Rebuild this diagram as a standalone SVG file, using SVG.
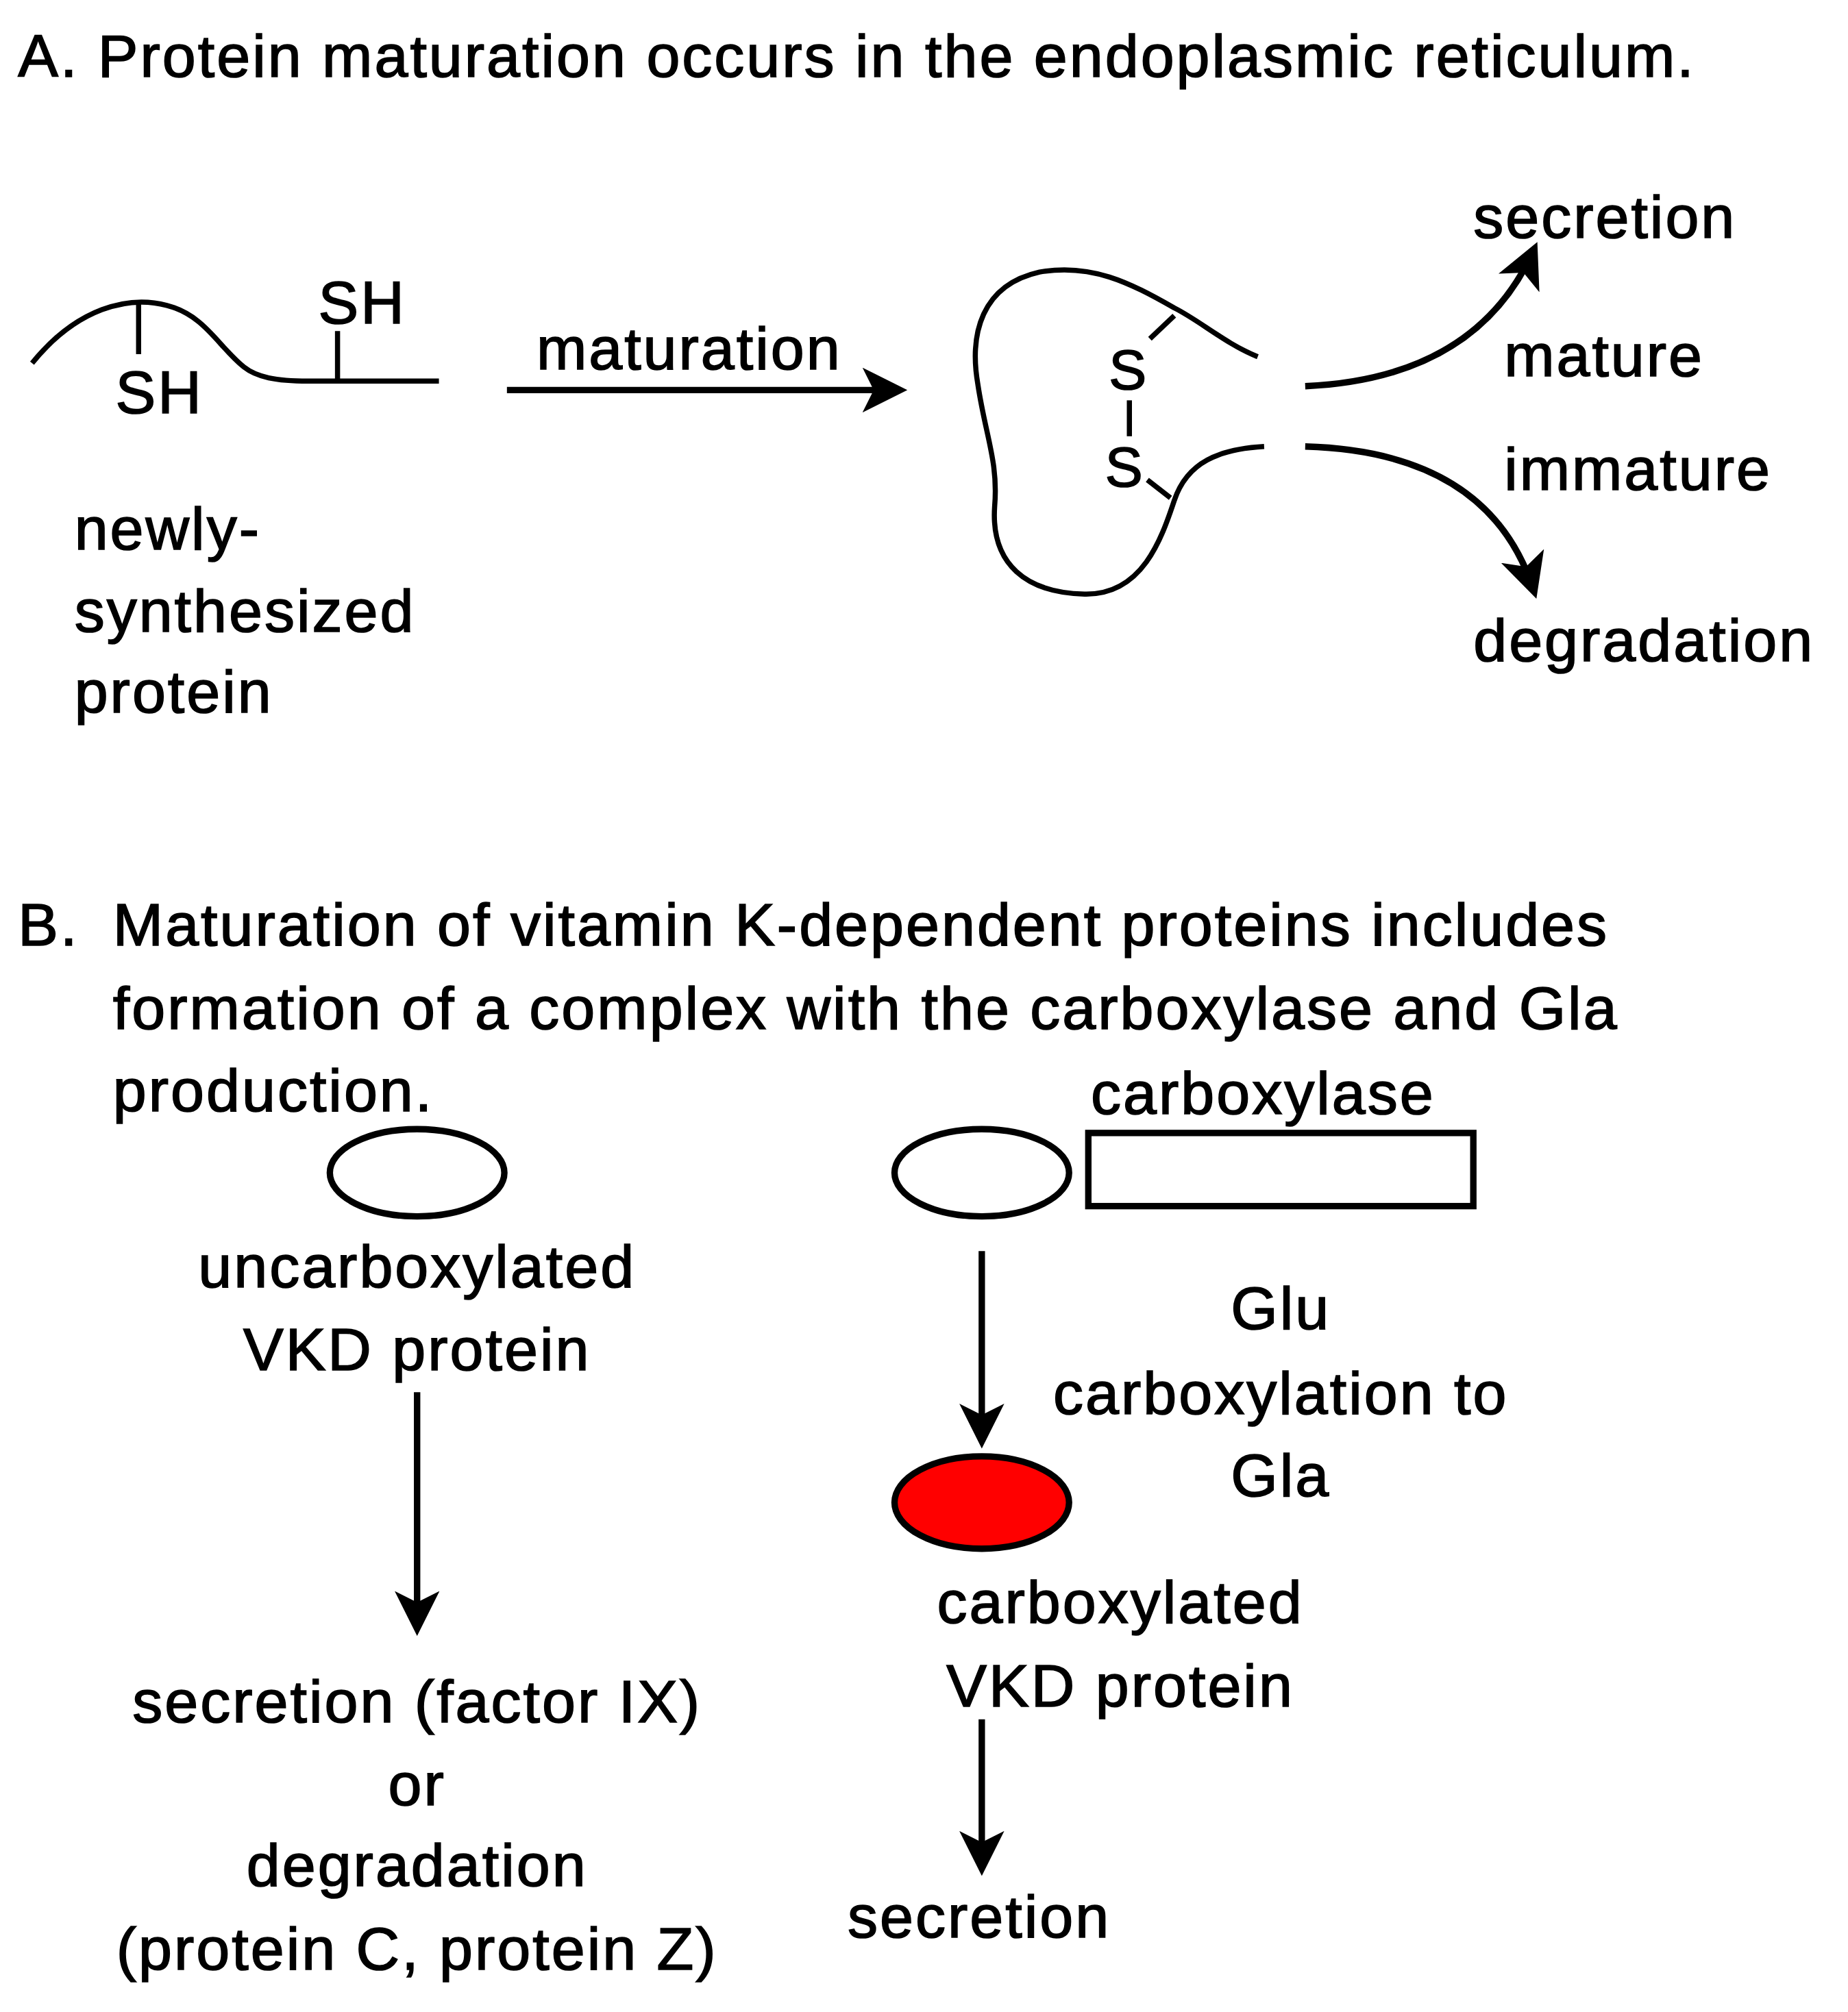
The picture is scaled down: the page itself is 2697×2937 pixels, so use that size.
<svg xmlns="http://www.w3.org/2000/svg" width="2697" height="2937" viewBox="0 0 2697 2937">
<defs>
<style>
text{font-family:"Liberation Sans","DejaVu Sans",sans-serif;font-size:47px;fill:#000;stroke:#000;stroke-width:0.9px;letter-spacing:1.6px}
.c{text-anchor:middle}
.ln{fill:none;stroke:#000;stroke-width:4}
.ar{fill:none;stroke:#000;stroke-width:5}
</style>
<marker id="ah2" viewBox="0 0 10 10" refX="8" refY="5" markerWidth="7" markerHeight="7" orient="auto">
<path d="M0,0 L10,5 L0,10 L2.5,5 z" fill="#000"/>
</marker>
</defs>
<rect width="2697" height="2937" fill="#fff"/>
<g transform="scale(1.873)">
<g id="titleA"><text x="14" y="60">A. Protein maturation occurs in the endoplasmic reticulum.</text></g>
<g id="newProtein">
<path class="ln" d="M25,283 C60,240 100,230 130,238 C160,246 170,270 190,286 C200,294 215,297 240,297 L342,297"/>
<line class="ln" x1="108" y1="236" x2="108" y2="276"/>
<line class="ln" x1="263" y1="258" x2="263" y2="297"/>
<text x="90" y="322">SH</text>
<text x="248" y="252">SH</text>
<text x="58" y="428">newly-</text>
<text x="58" y="492">synthesized</text>
<text x="58" y="555">protein</text>
</g>
<g id="matureProtein">
<path class="ln" d="M980,278 C955,268 935,250 915,240 C880,220 850,205 810,212 C765,222 755,260 762,300 C768,340 778,360 775,395 C772,440 800,462 845,463 C890,464 905,420 915,390 C925,360 950,350 985,348"/>
<text x="864" y="303" style="font-size:44px;letter-spacing:0">S</text>
<text x="861" y="379" style="font-size:44px;letter-spacing:0">S</text>
<line class="ln" x1="880" y1="312" x2="880" y2="340"/>
<line class="ln" x1="896" y1="264" x2="915" y2="246"/>
<line class="ln" x1="894" y1="374" x2="912" y2="388"/>
</g>
<g id="connectors">
<line class="ar" x1="395" y1="304" x2="700" y2="304" marker-end="url(#ah2)"/>
<path class="ar" d="M1017,301 Q1150,295 1195,195" marker-end="url(#ah2)"/>
<path class="ar" d="M1017,348 Q1160,352 1195,460" marker-end="url(#ah2)"/>
<line class="ar" x1="325" y1="1085" x2="325" y2="1268" marker-end="url(#ah2)"/>
<line class="ar" x1="765" y1="975" x2="765" y2="1122" marker-end="url(#ah2)"/>
<line class="ar" x1="765" y1="1340" x2="765" y2="1455" marker-end="url(#ah2)"/>
</g>
<g id="labelsA">
<text x="418" y="288">maturation</text>
<text x="1148" y="185">secretion</text>
<text x="1172" y="293">mature</text>
<text x="1172" y="382">immature</text>
<text x="1148" y="515">degradation</text>
</g>
<g id="titleB">
<text x="14" y="737">B.</text>
<text x="88" y="737">Maturation of vitamin K-dependent proteins includes</text>
<text x="88" y="802">formation of a complex with the carboxylase and Gla</text>
<text x="88" y="866">production.</text>
</g>
<g id="uncarbox">
<ellipse cx="325" cy="914" rx="68" ry="34" fill="#fff" stroke="#000" stroke-width="5"/>
<text class="c" x="325" y="1003">uncarboxylated</text>
<text class="c" x="325" y="1068">VKD protein</text>
</g>
<g id="fate">
<text class="c" x="325" y="1342">secretion (factor IX)</text>
<text class="c" x="325" y="1407">or</text>
<text class="c" x="325" y="1470">degradation</text>
<text class="c" x="325" y="1535">(protein C, protein Z)</text>
</g>
<g id="complex">
<ellipse cx="765" cy="914" rx="68" ry="34" fill="#fff" stroke="#000" stroke-width="5"/>
<rect x="848" y="883" width="300" height="57" fill="#fff" stroke="#000" stroke-width="5"/>
<text x="850" y="868">carboxylase</text>
</g>
<g id="gluLabel">
<text class="c" x="998" y="1036">Glu</text>
<text class="c" x="998" y="1102">carboxylation to</text>
<text class="c" x="998" y="1166">Gla</text>
</g>
<g id="carbox">
<ellipse cx="765" cy="1171" rx="68" ry="36" fill="#f00" stroke="#000" stroke-width="5"/>
<text class="c" x="873" y="1265">carboxylated</text>
<text class="c" x="873" y="1330">VKD protein</text>
</g>
<g id="secretionB"><text class="c" x="763" y="1510">secretion</text></g>
</g>
</svg>
